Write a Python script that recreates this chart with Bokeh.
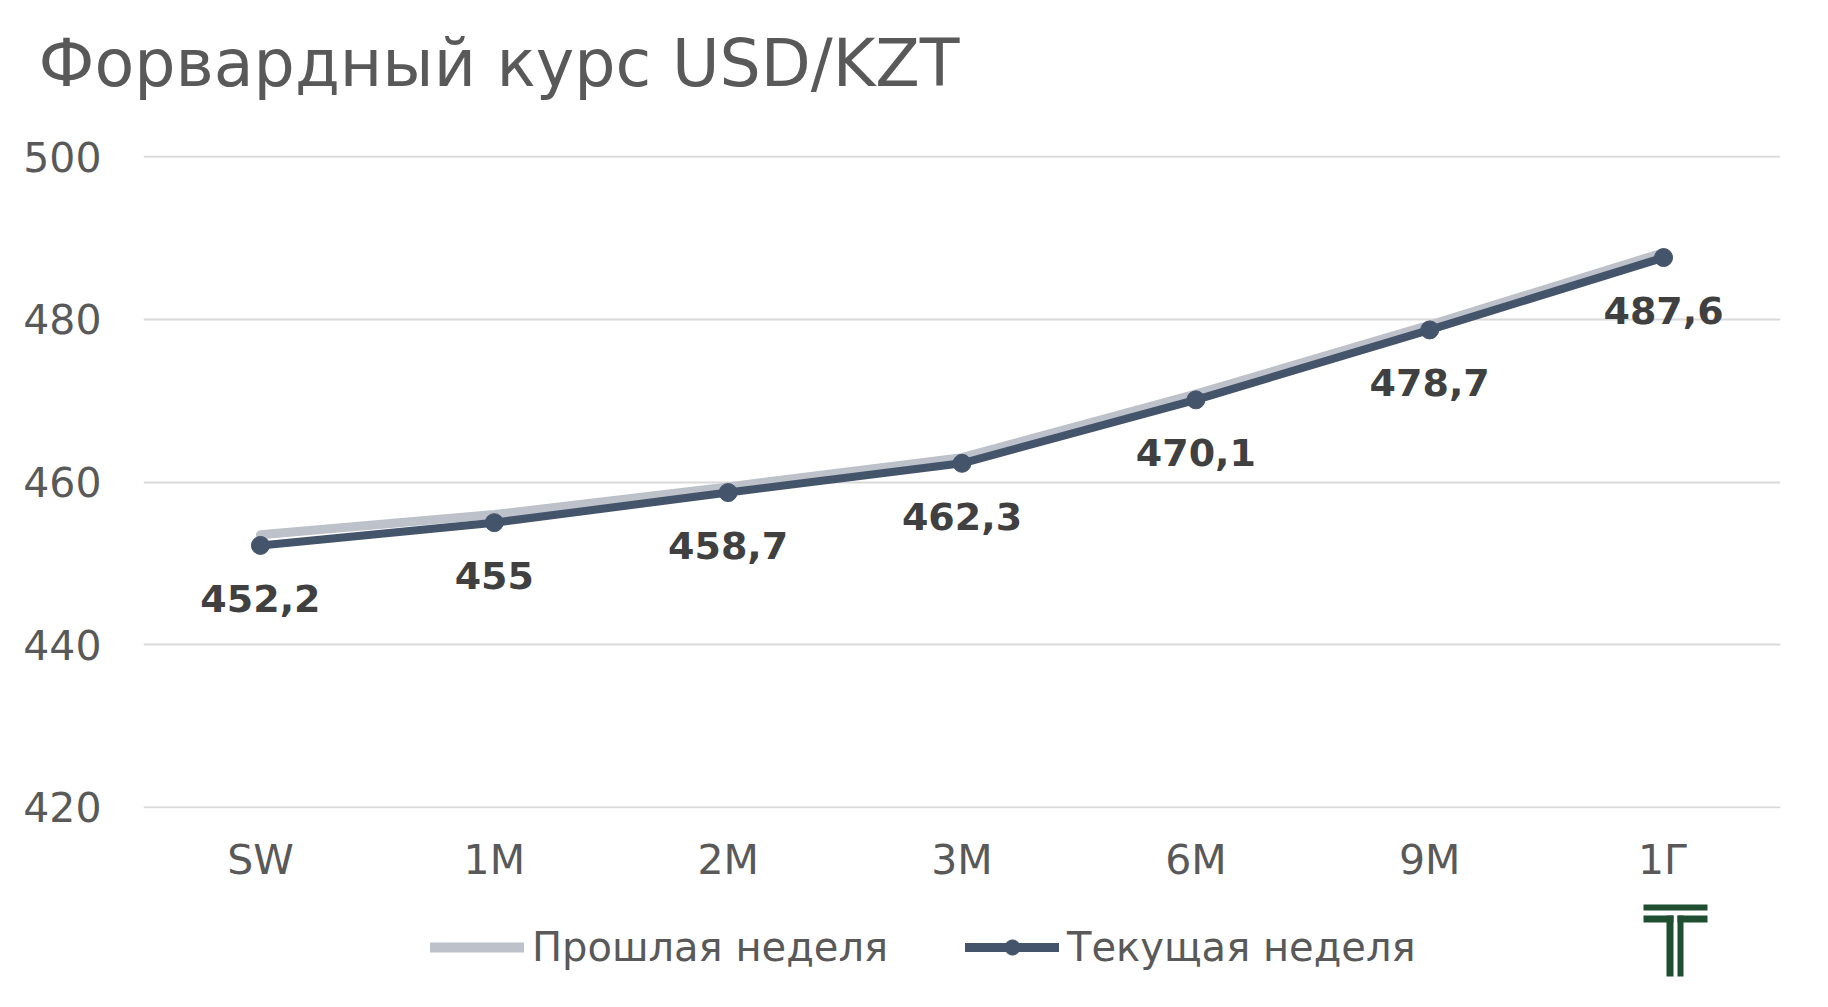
import math
from bokeh.plotting import figure
from bokeh.layouts import column
from bokeh.models import Range1d, FixedTicker, Legend, LegendItem, ColumnDataSource, Title
from bokeh.embed import file_html
from bokeh.resources import INLINE

# ---- data ----
categories = ["SW", "1M", "2M", "3M", "6M", "9M", "1Г"]
current_week = [452.2, 455.0, 458.7, 462.3, 470.1, 478.7, 487.6]
previous_week = [453.5, 456.0, 459.4, 463.0, 470.8, 479.3, 488.2]
y_ticks = [420, 440, 460, 480, 500]
title_text = "Форвардный курс USD/KZT"
series_names = ["Прошлая неделя", "Текущая неделя"]

FONT = "DejaVu Sans"
TXT = "#595959"
DARK = "#44546A"
GRAY = "#BCC1CA"

labels = [f"{v:g}".replace(".", ",") for v in current_week]
src = ColumnDataSource(dict(cat=categories, cur=current_week, prev=previous_week, lab=labels))

W = 1828
H_TOP = 135
H_MAIN = 763
H_LEG = 1007 - H_TOP - H_MAIN
FRAME_L, FRAME_R = 143, 1780


def strip(h):
    f = figure(width=W, height=h, x_range=Range1d(FRAME_L, FRAME_R), y_range=Range1d(0, h),
               output_backend="svg", toolbar_location=None, x_axis_type=None, y_axis_type=None,
               min_border=0, min_border_left=FRAME_L, min_border_right=W - FRAME_R)
    f.outline_line_color = None
    f.grid.visible = False
    f.background_fill_color = "white"
    f.border_fill_color = "white"
    return f


# ---- title strip ----
p0 = figure(width=W, height=H_TOP, output_backend="svg", toolbar_location=None,
            x_axis_type=None, y_axis_type=None, min_border=0,
            min_border_left=FRAME_L, min_border_right=W - FRAME_R)
p0.outline_line_color = None
p0.grid.visible = False
p0.border_fill_color = "white"
p0.add_layout(Title(text=title_text, align="left", offset=-105, text_font_size="65px",
                    text_font=FONT, text_font_style="normal", text_color=TXT, standoff=47), "above")

# ---- main chart ----
p = figure(x_range=categories, y_range=Range1d(419.85, 500.15), width=W, height=H_MAIN,
           output_backend="svg", toolbar_location=None,
           min_border_left=FRAME_L, min_border_right=W - FRAME_R, min_border_top=20, min_border_bottom=90)
p.outline_line_color = None
p.background_fill_color = "white"
p.border_fill_color = "white"

p.xgrid.grid_line_color = None
p.ygrid.grid_line_color = "#D9D9D9"
p.ygrid.grid_line_width = 2
p.yaxis.ticker = FixedTicker(ticks=y_ticks)

for ax in (p.xaxis, p.yaxis):
    ax.axis_line_color = None
    ax.major_tick_line_color = None
    ax.minor_tick_line_color = None
    ax.major_label_text_color = TXT
    ax.major_label_text_font = FONT
    ax.major_label_text_font_size = "41px"
p.yaxis.major_label_standoff = 36
p.xaxis.major_label_standoff = 21

p.line("cat", "prev", source=src, line_color=GRAY, line_width=9,
       line_cap="round", line_join="round")
p.line("cat", "cur", source=src, line_color=DARK, line_width=8,
       line_cap="round", line_join="round")
p.scatter("cat", "cur", source=src, size=18, fill_color=DARK, line_color=DARK)

p.text("cat", "cur", text="lab", source=src, text_align="center", text_baseline="middle",
       y_offset=53, text_font_size="38px", text_font_style="bold", text_color="#404040",
       text_font={"value": FONT})

# ---- legend + logo strip ----
p2 = strip(H_LEG)
nan = [math.nan]
lg_prev = p2.line(nan, nan, line_color=GRAY, line_width=10, line_cap="round")
lg_cur = p2.line(nan, nan, line_color=DARK, line_width=9, line_cap="round")
lg_pts = p2.scatter(nan, nan, size=17, fill_color=DARK, line_color=DARK)

legend = Legend(items=[LegendItem(label=series_names[0], renderers=[lg_prev]),
                       LegendItem(label=series_names[1], renderers=[lg_cur, lg_pts])],
                orientation="horizontal", location=(287, 37), margin=0, padding=0,
                glyph_width=94, glyph_height=38, label_standoff=8, spacing=77,
                label_text_font=FONT, label_text_font_size="40px", label_text_color=TXT,
                border_line_color=None, background_fill_alpha=0)
p2.add_layout(legend)

# logo (decorative "T" mark)
GREEN = "#1F4E31"
logo_l = [1643, 1643, 1666, 1677, 1677]
logo_r = [1707, 1673, 1673, 1707, 1683]
logo_t = [103, 92, 92, 92, 92]
logo_b = [97, 85, 31, 85, 31]
p2.quad(left=logo_l, right=logo_r, top=logo_t, bottom=logo_b, fill_color=GREEN, line_color=None)

layout = column(p0, p, p2, spacing=0)
open("out.html", "w").write(file_html(layout, INLINE))
